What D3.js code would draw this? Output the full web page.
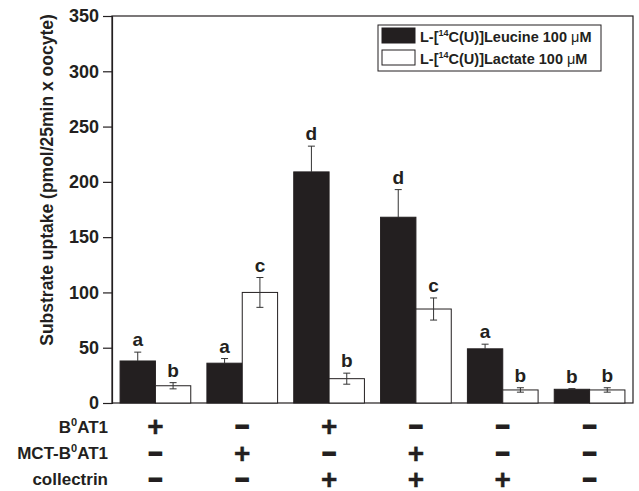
<!DOCTYPE html>
<html>
<head>
<meta charset="utf-8">
<script src="https://cdn.jsdelivr.net/npm/d3@7"></script>
<style>
  body { margin: 0; background: #fff; }
  svg text { font-family: "Liberation Sans", Arial, sans-serif; font-weight: bold; fill: #231f20; }
</style>
</head>
<body>
<div id="chart"></div>
<script>
const groups = ["g1", "g2", "g3", "g4", "g5", "g6"];
const leucine = [38, 36, 209, 168, 49, 12.4];
const leucineErr = [8, 4.2, 23.3, 25, 4.2, 0.6];
const lactate = [15.6, 100, 22, 85, 11.8, 11.8];
const lactateErr = [2.8, 13.5, 5, 10, 2, 2];
const leucineLetters = ["a", "a", "d", "d", "a", "b"];
const lactateLetters = ["b", "c", "b", "c", "b", "b"];
const yTicks = [0, 50, 100, 150, 200, 250, 300, 350];
const rowNames = ["B0AT1", "MCT-B0AT1", "collectrin"];
const b0at1 = ["+", "-", "+", "-", "-", "-"];
const mctB0at1 = ["-", "+", "-", "+", "-", "-"];
const collectrin = ["-", "-", "+", "+", "+", "-"];

let width = 639,
    height = 491,
    plotLeft = 112,
    plotRight = 633,
    plotTop = 16,
    plotBottom = 403,
    dark = "#231f20";

let svg = d3.select("#chart").append("svg")
    .attr("width", width)
    .attr("height", height);

/* Scales */
let x = d3.scaleBand().domain(groups).range([plotLeft, plotRight]);
let y = d3.scaleLinear().domain([0, 350]).range([plotBottom, plotTop]);
let bw = x.bandwidth() * 0.407;
let cx = g => x(g) + x.bandwidth() / 2;

/* Frame */
svg.append("rect")
    .attr("x", plotLeft).attr("y", plotTop)
    .attr("width", plotRight - plotLeft).attr("height", plotBottom - plotTop)
    .attr("fill", "none").attr("stroke", dark).attr("stroke-width", 1.2);

/* Y axis */
let yAxis = d3.axisLeft(y).tickValues(yTicks).tickSize(9).tickPadding(4);
let ya = svg.append("g")
    .attr("transform", `translate(${plotLeft},0)`)
    .call(yAxis);
ya.select(".domain").attr("stroke", dark).attr("stroke-width", 1.2);
ya.selectAll(".tick line").attr("stroke", dark).attr("stroke-width", 1.2);
ya.selectAll(".tick text").style("font-size", "18px").attr("fill", dark);

svg.append("text")
    .attr("transform", "translate(53, 180) rotate(-90)")
    .attr("text-anchor", "middle")
    .style("font-size", "17.5px")
    .text("Substrate uptake (pmol/25min x oocyte)");

/* Bars */
let series = [
    {vals: leucine, err: leucineErr, letters: leucineLetters, fill: dark, off: -bw, both: false},
    {vals: lactate, err: lactateErr, letters: lactateLetters, fill: "#fff", off: 0, both: true}
];

series.forEach(s => {
    let gs = svg.append("g");
    gs.selectAll("rect")
        .data(groups).enter()
        .append("rect")
        .attr("x", g => cx(g) + s.off)
        .attr("y", (g, i) => y(s.vals[i]))
        .attr("width", bw)
        .attr("height", (g, i) => y(0) - y(s.vals[i]))
        .attr("fill", s.fill)
        .attr("stroke", dark)
        .attr("stroke-width", 1);

    let eb = gs.selectAll(".err")
        .data(groups).enter()
        .append("g")
        .attr("class", "err")
        .attr("stroke", "#333")
        .attr("stroke-width", 1);
    eb.append("line")
        .attr("x1", g => cx(g) + s.off + bw / 2)
        .attr("x2", g => cx(g) + s.off + bw / 2)
        .attr("y1", (g, i) => y(s.both ? s.vals[i] - s.err[i] : s.vals[i]))
        .attr("y2", (g, i) => y(s.vals[i] + s.err[i]));
    eb.append("line")
        .attr("x1", g => cx(g) + s.off + bw / 2 - 3.5)
        .attr("x2", g => cx(g) + s.off + bw / 2 + 3.5)
        .attr("y1", (g, i) => y(s.vals[i] + s.err[i]))
        .attr("y2", (g, i) => y(s.vals[i] + s.err[i]));
    if (s.both) {
        eb.append("line")
            .attr("x1", g => cx(g) + s.off + bw / 2 - 3.5)
            .attr("x2", g => cx(g) + s.off + bw / 2 + 3.5)
            .attr("y1", (g, i) => y(s.vals[i] - s.err[i]))
            .attr("y2", (g, i) => y(s.vals[i] - s.err[i]));
    }

    gs.selectAll(".letter")
        .data(groups).enter()
        .append("text")
        .attr("class", "letter")
        .attr("x", g => cx(g) + s.off + bw / 2)
        .attr("y", (g, i) => y(s.vals[i] + s.err[i]) - 6)
        .attr("text-anchor", "middle")
        .style("font-size", "19px")
        .text((g, i) => s.letters[i]);
});

/* Legend */
let lg = svg.append("g");
lg.append("rect")
    .attr("x", 378).attr("y", 25).attr("width", 223).attr("height", 46)
    .attr("fill", "#fff").attr("stroke", dark).attr("stroke-width", 1);
let legendItems = [
    {name: "Leucine 100 ", fill: dark, y: 28},
    {name: "Lactate 100 ", fill: "#fff", y: 50}
];
legendItems.forEach(d => {
    lg.append("rect")
        .attr("x", 382).attr("y", d.y).attr("width", 33).attr("height", 15)
        .attr("fill", d.fill).attr("stroke", dark).attr("stroke-width", 1);
    let t = lg.append("text")
        .attr("x", 420).attr("y", d.y + 13.5)
        .style("font-size", "14.5px");
    t.append("tspan").text("L-[");
    t.append("tspan").attr("dy", -6).style("font-size", "9px").text("14");
    t.append("tspan").attr("dy", 6).text("C(U)]" + d.name);
    t.append("tspan").style("font-weight", "normal").text("\u03bc");
    t.append("tspan").text("M");
});

/* Condition table */
let rows = [b0at1, mctB0at1, collectrin];
let rowLabelY = [433, 459, 485];
let rowMid = [426.5, 453.5, 479.5];
rows.forEach((r, ri) => {
    let t = svg.append("text")
        .attr("x", 108).attr("y", rowLabelY[ri])
        .attr("text-anchor", "end")
        .style("font-size", "17px");
    let name = rowNames[ri];
    if (name.indexOf("0") >= 0) {
        let parts = name.split("0");
        t.append("tspan").text(parts[0]);
        t.append("tspan").attr("dy", -7).style("font-size", "11px").text("0");
        t.append("tspan").attr("dy", 7).text(parts[1]);
    } else {
        t.text(name);
    }

    let signs = svg.append("g").selectAll("text")
        .data(groups).enter()
        .append("text")
        .attr("x", g => cx(g))
        .attr("text-anchor", "middle");
    signs.filter((g, i) => r[i] === "+")
        .attr("y", rowMid[ri] + 28 * 0.34)
        .style("font-size", "28px")
        .attr("stroke", dark)
        .attr("stroke-width", 0.4)
        .text("+");
    signs.filter((g, i) => r[i] !== "+")
        .attr("y", rowMid[ri] + 23 * 0.27)
        .style("font-size", "23px")
        .attr("stroke", dark)
        .attr("stroke-width", 2.2)
        .text("\u2013");
});
</script>
</body>
</html>
